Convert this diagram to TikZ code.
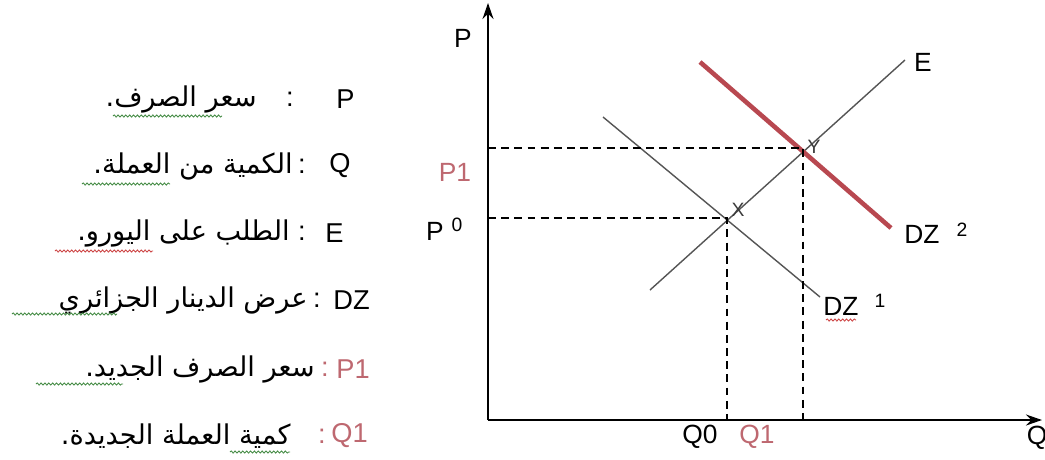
\documentclass[tikz,border=0pt]{standalone}
\usepackage{fontspec}
\setmainfont{Liberation Sans}
\newfontfamily\arabicfont[Script=Arabic]{DejaVu Sans}
\TeXXeTstate=1
\usetikzlibrary{arrows.meta,decorations.pathmorphing}
\definecolor{newcolor}{RGB}{190,104,112}
\definecolor{shiftcolor}{RGB}{184,72,80}
\definecolor{curvecolor}{RGB}{85,85,85}
\definecolor{spellred}{RGB}{205,70,70}
\definecolor{spellgreen}{RGB}{70,140,70}

\begin{document}
\begin{tikzpicture}[
    x=0.2mm, y=-0.2mm,
    axis/.style={-{Stealth[length=3.2mm,width=2.2mm]}, line width=1pt},
    curve/.style={draw=curvecolor, line width=0.8pt},
    shifted/.style={draw=shiftcolor, line width=2.6pt},
    guide/.style={dash pattern=on 4.5pt off 3pt, line width=1pt},
    lbl/.style={font=\fontsize{15}{18}\selectfont, inner sep=0pt},
    idx/.style={font=\fontsize{11}{13}\selectfont, inner sep=0pt},
    legend/.style={anchor=east, font=\fontsize{15.5}{18}\selectfont, inner sep=0pt},
    arab/.style={anchor=east, font=\fontsize{15.5}{18}\arabicfont, inner sep=0pt},
    wavy/.style={decorate, decoration={snake, amplitude=0.6pt, segment length=2.2pt}, line width=0.5pt}
]
    \useasboundingbox (0,0) rectangle (1045,459);

    % Legend
    \node[legend] (leg1) at (355,99) {P};
    \node[legend] (col1) at (294,99) {:};
    \node[arab] (txt1) at (257,99) {\beginR سعر الصرف.\endR};
    \node[legend] (leg2) at (351,166) {Q};
    \node[legend] (col2) at (306,166) {:};
    \node[arab] (txt2) at (293,166) {\beginR الكمية من العملة.\endR};
    \node[legend] (leg3) at (344,233) {E};
    \node[legend] (col3) at (306,233) {:};
    \node[arab] (txt3) at (290,233) {\beginR الطلب على اليورو.\endR};
    \node[legend] (leg4) at (370,300) {DZ};
    \node[legend] (col4) at (321,300) {:};
    \node[arab] (txt4) at (308,300) {\beginR عرض الدينار الجزائري\endR};
    \node[legend, text=newcolor] (leg5) at (370,369) {P1};
    \node[legend, text=newcolor] (col5) at (329,369) {:};
    \node[arab] (txt5) at (315,369) {\beginR سعر الصرف الجديد.\endR};
    \node[legend, text=newcolor] (leg6) at (368,436) {Q1};
    \node[legend, text=newcolor] (col6) at (326,436) {:};
    \node[arab] (txt6) at (291,436) {\beginR كمية العملة الجديدة.\endR};

    % Spelling marks
    \draw[wavy, spellgreen] (113,116) -- (222,116);
    \draw[wavy, spellgreen] (82,184) -- (170,184);
    \draw[wavy, spellred] (55,251) -- (153,251);
    \draw[wavy, spellgreen] (12,314) -- (117,314);
    \draw[wavy, spellgreen] (36,384) -- (123,384);
    \draw[wavy, spellgreen] (230,452) -- (290,452);
    \draw[wavy, spellred] (826,320) -- (856,320);

    % Axes
    \coordinate (O) at (488,420);
    \coordinate (ytop) at (488,3);
    \coordinate (xend) at (1042,420);
    \draw[axis] (O) -- (ytop);
    \draw[axis] (O) -- (xend);

    % Equilibria
    \coordinate (A) at (727,218);
    \coordinate (B) at (803,148);

    % Curves
    \coordinate (E0) at (650,290);
    \coordinate (E1) at (905,60);
    \coordinate (D0) at (603,117);
    \coordinate (D1) at (820,297);
    \coordinate (N0) at (700,62);
    \coordinate (N1) at (891,228);
    \draw[curve] (E0) -- (E1);
    \draw[curve] (D0) -- (D1);
    \draw[shifted] (N0) -- (N1);

    % Guides
    \draw[guide] (A -| O) -- (A) -- (A |- O);
    \draw[guide] (B -| O) -- (B) -- (B |- O);

    % Labels
    \node[lbl] (Plbl) at (463,38) {P};
    \node[lbl, text=newcolor] (P1lbl) at (455,172) {P1};
    \node[lbl] (P0lbl) at (435,231) {P};
    \node[idx] (P0idx) at (457,225) {0};
    \node[lbl] (Q0lbl) at (700,437) {Q0};
    \node[lbl, text=newcolor] (Q1lbl) at (757,437) {Q1};
    \node[lbl] (Qlbl) at (1037,438) {Q};
    \node[lbl] (Elbl) at (923,62) {E};
    \node[lbl] (DZ2lbl) at (922,234) {DZ};
    \node[idx] (DZ2idx) at (962,230) {2};
    \node[lbl] (DZ1lbl) at (841,306) {DZ};
    \node[idx] (DZ1idx) at (880,301) {1};
    \node[idx, text=curvecolor!70!black] (Xmark) at (738,210) {X};
    \node[idx, text=curvecolor!70!black] (Ymark) at (814,147) {Y};
\end{tikzpicture}
\end{document}
